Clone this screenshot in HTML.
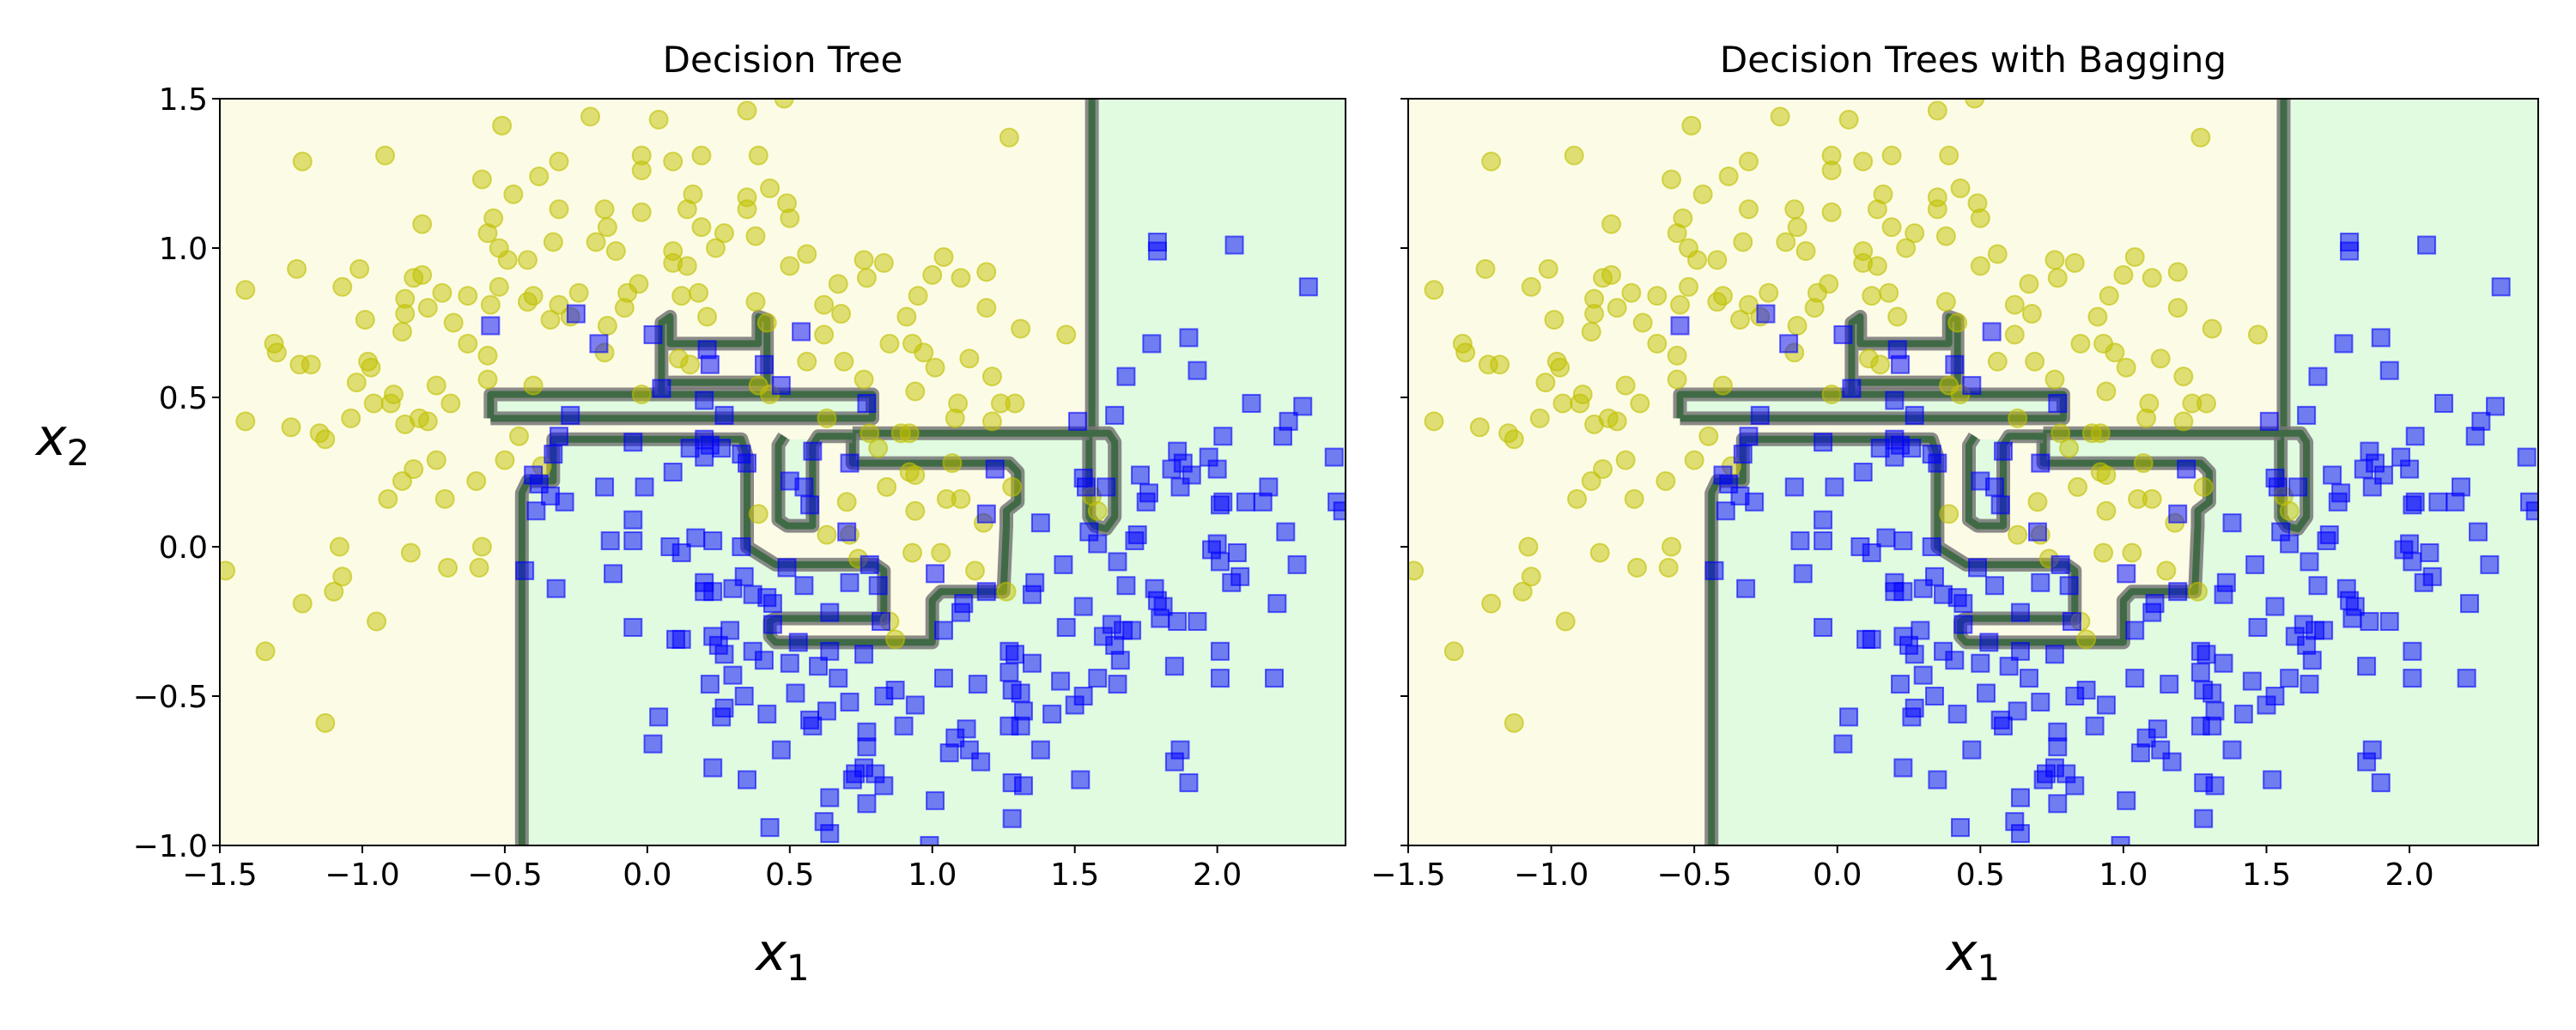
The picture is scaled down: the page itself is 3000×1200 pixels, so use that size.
<!DOCTYPE html>
<html><head><meta charset="utf-8">
<style>
html,body{margin:0;padding:0;background:#fff;}
svg{display:block;font-family:"DejaVu Sans","Liberation Sans",sans-serif;}
</style></head>
<body>
<svg id="chart" width="3000" height="1200" viewBox="0 0 3000 1200" xmlns="http://www.w3.org/2000/svg"></svg>
<script>
const xTicks=[-1.5,-1.0,-0.5,0.0,0.5,1.0,1.5,2.0];
const yTicks=[-1.0,-0.5,0.0,0.5,1.0,1.5];
const titles=["Decision Tree","Decision Trees with Bagging"];
const yellowX=[0.35,0.48,-0.51,-0.2,0.04,1.27,-1.21,-0.92,-0.31,-0.38,-0.58,-0.47,-0.02,-0.02,0.09,0.19,0.39,0.16,0.35,0.43,0.49,0.35,0.5,-0.31,-0.79,-0.54,-0.56,-0.15,-0.14,-0.02,0.14,0.19,0.27,0.38,-0.33,-0.18,-0.11,0.09,0.24,-0.52,-0.42,-0.49,0.09,0.14,0.5,0.56,0.76,0.83,1.04,1.19,1.1,1.0,0.77,0.67,-1.23,-1.01,-1.07,-1.41,-0.82,-0.79,-0.85,-0.72,-0.63,-0.52,-0.55,-0.4,-0.42,-0.31,-0.24,-0.07,-0.03,-0.08,0.12,0.18,0.38,0.62,0.95,1.19,-0.99,-0.85,-0.77,-0.68,-0.86,-0.34,-0.27,-0.14,0.21,0.42,0.68,0.91,1.31,1.47,0.62,-1.31,-1.3,-1.22,-1.18,-0.63,-0.56,-0.15,0.85,0.93,0.97,1.01,1.13,0.56,0.69,0.11,0.15,-1.02,-0.98,-0.97,-0.56,-0.4,1.21,0.94,0.39,0.43,0.76,-1.41,-1.25,-1.15,-1.13,-1.04,-0.96,-0.89,-0.9,-0.85,-0.8,-0.77,-0.69,-0.74,-0.02,1.09,1.24,1.29,1.21,1.08,0.63,0.78,0.89,0.92,0.81,-0.45,-0.5,-0.74,-0.82,-0.86,-0.91,-0.71,-0.6,-0.37,1.07,0.92,0.94,0.84,1.28,1.05,1.1,0.94,0.7,0.39,1.18,1.58,1.56,0.63,0.71,-1.08,-0.83,-0.58,0.93,1.03,1.15,0.74,-1.48,-1.07,-0.7,-0.59,-1.1,-1.21,1.26,-0.95,0.85,0.87,-1.34,-1.13];
const yellowY=[1.46,1.5,1.41,1.44,1.43,1.37,1.29,1.31,1.29,1.24,1.23,1.18,1.31,1.26,1.29,1.31,1.31,1.18,1.17,1.2,1.15,1.13,1.1,1.13,1.08,1.1,1.05,1.13,1.07,1.12,1.13,1.07,1.05,1.04,1.02,1.02,0.99,0.99,1.0,1.0,0.96,0.96,0.95,0.94,0.94,0.98,0.96,0.95,0.97,0.92,0.9,0.91,0.9,0.88,0.93,0.93,0.87,0.86,0.9,0.91,0.83,0.85,0.84,0.87,0.81,0.84,0.82,0.81,0.85,0.85,0.88,0.8,0.84,0.85,0.82,0.81,0.84,0.8,0.76,0.78,0.8,0.75,0.72,0.76,0.77,0.74,0.77,0.75,0.78,0.77,0.73,0.71,0.71,0.68,0.65,0.61,0.61,0.68,0.64,0.65,0.68,0.68,0.65,0.6,0.63,0.62,0.62,0.63,0.61,0.55,0.62,0.6,0.56,0.54,0.57,0.52,0.54,0.51,0.56,0.42,0.4,0.38,0.36,0.43,0.48,0.51,0.48,0.41,0.43,0.42,0.48,0.54,0.51,0.48,0.48,0.48,0.42,0.43,0.43,0.38,0.38,0.38,0.33,0.37,0.29,0.29,0.26,0.22,0.16,0.16,0.22,0.27,0.28,0.25,0.24,0.2,0.2,0.16,0.16,0.12,0.15,0.11,0.08,0.12,0.17,0.04,0.04,0.0,-0.02,0.0,-0.02,-0.02,-0.08,-0.04,-0.08,-0.1,-0.07,-0.07,-0.15,-0.19,-0.15,-0.25,-0.25,-0.31,-0.35,-0.59];
const blueX=[1.79,1.79,2.06,2.32,1.77,1.9,1.93,1.68,2.12,2.3,2.25,2.23,2.02,1.64,1.51,2.41,1.86,1.88,1.84,1.91,2.0,1.97,1.73,1.87,1.76,1.75,1.53,1.54,1.61,2.18,2.02,2.01,2.1,2.16,2.42,2.44,2.24,1.72,1.71,1.55,1.58,1.38,2.0,1.98,2.07,2.01,2.28,2.08,2.05,1.65,1.46,1.68,1.78,1.79,1.81,1.8,1.86,1.93,2.21,1.53,1.36,1.35,1.63,1.47,1.6,1.67,1.7,1.64,1.66,2.01,1.85,1.65,1.58,2.01,2.2,1.27,1.29,1.35,1.27,1.16,1.04,1.28,1.31,1.45,1.53,1.5,1.42,1.32,1.27,1.31,1.38,1.12,1.08,1.06,1.13,1.17,1.87,1.85,1.9,1.52,1.28,1.32,1.28,1.01,0.9,0.94,0.87,0.83,0.77,0.77,0.76,0.8,0.83,0.73,0.72,0.77,0.64,0.62,0.64,0.43,0.35,0.23,0.47,0.02,0.04,0.26,0.27,0.34,0.22,0.3,0.42,0.52,0.57,0.58,0.63,0.67,0.71,0.6,0.5,0.41,0.37,0.27,0.25,0.29,0.23,0.12,0.1,-0.05,0.53,0.76,0.64,0.64,0.44,0.44,0.42,0.37,0.34,0.3,0.2,0.23,0.2,0.49,0.55,0.71,0.78,0.81,1.01,0.82,1.11,1.1,1.04,1.19,0.33,0.23,0.17,0.08,0.12,-0.05,-0.13,-0.05,-0.12,-0.32,-0.43,-0.39,-0.29,-0.34,-0.38,-0.4,-0.33,-0.31,-0.15,-0.01,0.09,-0.05,0.15,0.2,0.22,0.26,0.2,0.33,0.35,0.27,0.2,-0.27,0.47,0.05,0.41,0.22,0.21,0.02,-0.17,-0.25,-0.55,0.54,0.77,0.58,0.71,0.5,0.55,0.57,1.22,1.19,0.7,0.99];
const blueY=[1.02,0.99,1.01,0.87,0.68,0.7,0.59,0.57,0.48,0.47,0.42,0.37,0.37,0.44,0.42,0.3,0.32,0.28,0.26,0.24,0.26,0.3,0.24,0.2,0.18,0.15,0.23,0.2,0.2,0.2,0.15,0.14,0.15,0.15,0.15,0.12,0.05,0.04,0.02,0.05,0.01,0.08,0.01,-0.01,-0.02,-0.05,-0.06,-0.1,-0.12,-0.05,-0.06,-0.13,-0.14,-0.18,-0.2,-0.24,-0.25,-0.25,-0.19,-0.2,-0.12,-0.16,-0.26,-0.27,-0.3,-0.28,-0.28,-0.33,-0.38,-0.35,-0.4,-0.46,-0.44,-0.44,-0.44,-0.35,-0.36,-0.39,-0.42,-0.46,-0.44,-0.48,-0.49,-0.45,-0.5,-0.53,-0.56,-0.55,-0.6,-0.6,-0.68,-0.61,-0.64,-0.69,-0.68,-0.72,-0.68,-0.72,-0.79,-0.78,-0.79,-0.8,-0.91,-0.85,-0.6,-0.53,-0.48,-0.5,-0.62,-0.67,-0.74,-0.76,-0.8,-0.76,-0.78,-0.86,-0.84,-0.92,-0.96,-0.94,-0.78,-0.74,-0.68,-0.66,-0.57,-0.57,-0.54,-0.5,-0.46,-0.43,-0.56,-0.49,-0.58,-0.6,-0.55,-0.44,-0.52,-0.4,-0.39,-0.38,-0.35,-0.36,-0.33,-0.28,-0.3,-0.31,-0.31,-0.27,-0.32,-0.36,-0.35,-0.22,-0.26,-0.19,-0.17,-0.16,-0.1,-0.14,-0.12,-0.15,-0.15,-0.07,-0.13,-0.12,-0.06,-0.13,-0.09,-0.25,-0.19,-0.22,-0.28,-0.15,0.0,0.02,0.03,0.0,-0.02,0.02,0.02,0.09,-0.09,-0.14,-0.08,0.12,0.15,0.17,0.21,0.24,0.31,0.37,0.2,0.2,0.25,0.35,0.33,0.36,0.34,0.33,0.3,0.31,0.28,0.44,0.49,0.44,0.54,0.53,0.61,0.61,0.66,0.71,0.68,0.78,0.74,0.72,0.48,0.32,0.28,0.22,0.2,0.14,0.26,0.11,0.05,-1.0];
// decision boundary polylines (data coords)
const boundaries=[
 [[1.56,1.5],[1.56,0.38]],
 [[1.55,0.38],[1.62,0.38],[1.64,0.35],[1.64,0.1],[1.61,0.06],[1.57,0.07],[1.55,0.1],[1.55,0.38]],
 [[0.72,0.38],[1.55,0.38]],
 [[0.72,0.38],[0.72,0.28],[1.27,0.28],[1.3,0.25],[1.3,0.15],[1.26,0.12],[1.26,0.07],[1.25,-0.15],[1.03,-0.15],[1.0,-0.18],[1.0,-0.32],[0.45,-0.32],[0.43,-0.3],[0.43,-0.25],[0.45,-0.24],[0.83,-0.24],[0.83,-0.08],[0.8,-0.06],[0.45,-0.06],[0.35,0.0],[0.35,0.3],[0.33,0.36],[-0.33,0.36],[-0.33,0.22],[-0.42,0.22],[-0.44,0.18],[-0.44,-1.0]],
 [[0.48,0.37],[0.46,0.34],[0.46,0.09],[0.49,0.07],[0.58,0.07],[0.58,0.34],[0.6,0.37],[0.72,0.37]],
 [[-0.55,0.43],[0.79,0.43],[0.79,0.51],[-0.55,0.51],[-0.55,0.43]],
 [[0.05,0.51],[0.05,0.75],[0.08,0.77],[0.08,0.68],[0.39,0.68],[0.39,0.77],[0.42,0.76],[0.42,0.55],[0.07,0.55]]
];
const greenRegion=[[-0.44,-1],[-0.44,0.18],[-0.42,0.22],[-0.33,0.22],[-0.33,0.36],[0.33,0.36],[0.35,0.3],[0.35,0.0],[0.45,-0.06],[0.8,-0.06],[0.83,-0.08],[0.83,-0.24],[0.45,-0.24],[0.43,-0.3],[0.45,-0.32],[1.0,-0.32],[1.0,-0.18],[1.03,-0.15],[1.25,-0.15],[1.26,0.12],[1.3,0.15],[1.3,0.25],[1.27,0.28],[0.72,0.28],[0.72,0.38],[1.56,0.38],[1.56,1.5],[2.45,1.5],[2.45,-1]];
const greenIslands=[
 [[0.46,0.36],[0.46,0.09],[0.49,0.07],[0.58,0.07],[0.58,0.36]],
 [[-0.55,0.43],[0.79,0.43],[0.79,0.51],[-0.55,0.51]]
];
const XMIN=-1.5,XMAX=2.45,YMIN=-1,YMAX=1.5;
const panels=[{l:256,r:1567},{l:1640,r:2956}];
const TOP=115,BOT=985;
const NS="http://www.w3.org/2000/svg";
const svg=document.getElementById('chart');
function mk(tag,attrs,parent){const e=document.createElementNS(NS,tag);for(const k in attrs)e.setAttribute(k,attrs[k]);(parent||svg).appendChild(e);return e;}
function fmt(v){const s=Math.abs(v).toFixed(1);return (v<0?"\u2212":"")+s;}
panels.forEach((p,pi)=>{
  const sx=v=>p.l+(v-XMIN)/(XMAX-XMIN)*(p.r-p.l);
  const sy=v=>BOT-(v-YMIN)/(YMAX-YMIN)*(BOT-TOP);
  const pts=a=>a.map(q=>sx(q[0]).toFixed(1)+","+sy(q[1]).toFixed(1)).join(" ");
  const g=mk('g',{});
  
  
  const cp=mk('clipPath',{id:'clip'+pi},g);
  mk('rect',{x:p.l,y:TOP,width:p.r-p.l,height:BOT-TOP},cp);
  const plot=mk('g',{'clip-path':'url(#clip'+pi+')'},g);
  const bg=mk('rect',{x:p.l,y:TOP,width:p.r-p.l,height:BOT-TOP,fill:'#fcfce6'},plot);
  
  
  const gr=mk('polygon',{points:pts(greenRegion),fill:'#e0fbe0'},plot);
  
  
  greenIslands.forEach(isl=>{
    const e=mk('polygon',{points:pts(isl),fill:'#e0fbe0'},plot);
    
    
  });
  boundaries.forEach(b=>{
    const o=mk('polyline',{points:pts(b),fill:'none',stroke:'#767676','stroke-width':16,'stroke-linejoin':'round','stroke-opacity':0.85},plot);
    
    
    mk('polyline',{points:pts(b),fill:'none',stroke:'#3f6a45','stroke-width':8,'stroke-linejoin':'round'},plot);
  });
  for(let i=0;i<yellowX.length;i++){
    const c=mk('circle',{cx:sx(yellowX[i]),cy:sy(yellowY[i]),r:10.5,fill:'rgba(191,191,0,0.5)',stroke:'rgba(191,191,0,0.6)','stroke-width':2},plot);
    
    
  }
  for(let i=0;i<blueX.length;i++){
    const s=mk('rect',{x:sx(blueX[i])-10,y:sy(blueY[i])-10,width:20,height:20,fill:'rgba(0,0,255,0.5)',stroke:'rgba(0,0,255,0.6)','stroke-width':2},plot);
    
    
  }
  const fr=mk('rect',{x:p.l,y:TOP,width:p.r-p.l,height:BOT-TOP,fill:'none',stroke:'#000','stroke-width':2},g);
  
  
  xTicks.forEach(t=>{
    const x=sx(t);
    mk('line',{x1:x,y1:BOT,x2:x,y2:BOT+9,stroke:'#000','stroke-width':2},g);
    const tx=mk('text',{x:x,y:BOT+46,'font-size':36,'text-anchor':'middle',fill:'#000'},g);
    tx.textContent=fmt(t);
    
    
  });
  yTicks.forEach(t=>{
    const y=sy(t);
    mk('line',{x1:p.l-9,y1:y,x2:p.l,y2:y,stroke:'#000','stroke-width':2},g);
    if(pi===0){
      const ty=mk('text',{x:p.l-14,y:y+13,'font-size':36,'text-anchor':'end',fill:'#000'},g);
      ty.textContent=fmt(t);
      
      
    }
  });
  const ti=mk('text',{x:(p.l+p.r)/2,y:84,'font-size':42,'text-anchor':'middle',fill:'#000'},g);
  ti.textContent=titles[pi];
  
  
  const xl=mk('text',{x:(p.l+p.r)/2,y:1130,'font-size':60,'font-style':'italic','text-anchor':'middle',fill:'#000'},g);
  xl.innerHTML='x<tspan font-size="42" font-style="normal" dy="12">1</tspan>';
  
  
});
const yl=mk('text',{x:42,y:530,'font-size':60,'font-style':'italic',fill:'#000'});
yl.innerHTML='x<tspan font-size="42" font-style="normal" dy="12">2</tspan>';


</script>
</body></html>
